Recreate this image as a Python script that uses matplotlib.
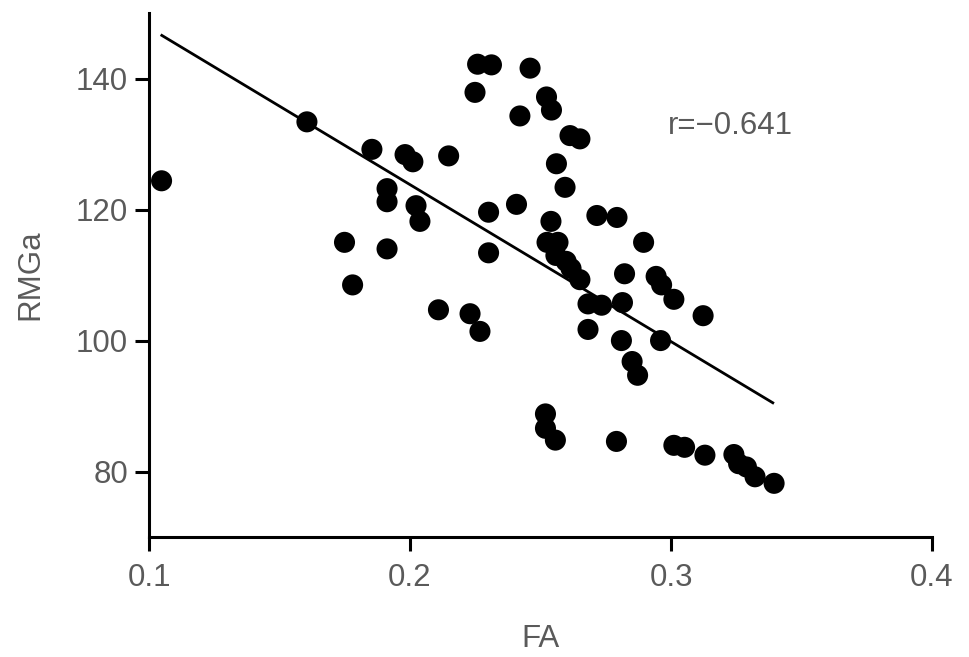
import matplotlib
matplotlib.use("Agg")
import matplotlib.pyplot as plt
import numpy as np

# FA vs RMGa values
fa = [0.1048, 0.1605, 0.1854, 0.1981, 0.2011, 0.2148, 0.1912, 0.1912, 0.2023, 0.2038,
      0.1749, 0.1912, 0.1780, 0.2259, 0.2312, 0.2460, 0.2249, 0.2421, 0.2523, 0.2542,
      0.2613, 0.2651, 0.2561, 0.2594, 0.2301, 0.2408, 0.2301, 0.2540, 0.2525, 0.2567,
      0.2559, 0.2598, 0.2617, 0.2651, 0.2716, 0.2793, 0.2895, 0.2822, 0.2943, 0.2964,
      0.3011, 0.3123, 0.2682, 0.2734, 0.2814, 0.2109, 0.2230, 0.2268, 0.2682, 0.2810,
      0.2960, 0.2851, 0.2872, 0.2519, 0.2519, 0.2557, 0.2791, 0.3011, 0.3052, 0.3130,
      0.3241, 0.3259, 0.3289, 0.3322, 0.3395]
rmga = [124.4, 133.4, 129.2, 128.4, 127.3, 128.2, 123.2, 121.2, 120.6, 118.2,
        115.0, 114.0, 108.5, 142.2, 142.1, 141.6, 137.9, 134.3, 137.2, 135.2,
        131.3, 130.8, 127.0, 123.4, 119.6, 120.8, 113.4, 118.2, 115.0, 115.0,
        113.0, 112.1, 111.0, 109.3, 119.1, 118.8, 115.0, 110.2, 109.8, 108.5,
        106.3, 103.8, 105.6, 105.4, 105.8, 104.7, 104.1, 101.4, 101.7, 100.0,
        100.0, 96.8, 94.7, 88.8, 86.6, 84.8, 84.6, 84.0, 83.7, 82.5,
        82.6, 81.2, 80.7, 79.2, 78.2]

# regression line ends as drawn in the reference
fit_x = [0.1049, 0.339]
fit_y = [146.6, 90.5]

x_ticks = [0.1, 0.2, 0.3, 0.4]
y_ticks = [80, 100, 120, 140]

plt.rcParams['font.family'] = ['Liberation Sans', 'DejaVu Sans']
grey = "#5a5a5a"

fig = plt.figure(figsize=(9.69, 6.57), dpi=100)
ax = fig.add_axes([0.1538, 0.1826, 0.808, 0.7974])

ax.plot(fit_x, fit_y, color="black", lw=2.0, zorder=2)
ax.scatter(fa, rmga, s=230, color="black", edgecolors="none", zorder=3)

ax.set_xlim(0.1, 0.4)
ax.set_ylim(70, 150)
ax.set_xticks(x_ticks)
ax.set_xticklabels([str(t) for t in x_ticks])
ax.set_yticks(y_ticks)

for side in ("top", "right"):
    ax.spines[side].set_visible(False)
for side in ("left", "bottom"):
    ax.spines[side].set_linewidth(2.2)
ax.tick_params(axis="both", which="major", length=10, width=2.2, direction="out",
               labelsize=22.5, labelcolor=grey)
ax.tick_params(axis="x", pad=9)
ax.tick_params(axis="y", pad=5)

ax.set_xlabel("FA", fontsize=22.5, color=grey, labelpad=22)
ax.set_ylabel("RMGa", fontsize=22.5, color=grey, labelpad=22)

ax.text(0.2989, 132.8, "r=\u22120.641", fontsize=22.5, color=grey, va="center", ha="left")

fig.savefig("out.png", dpi=100)
